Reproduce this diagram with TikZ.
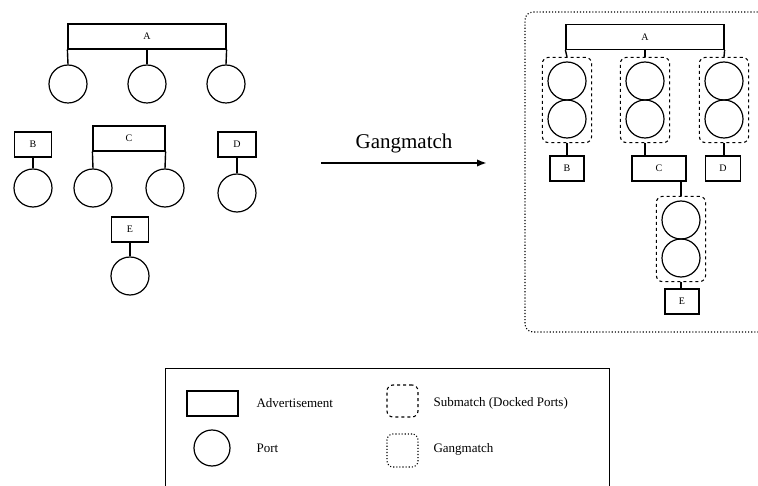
\documentclass[tikz,border=0pt]{standalone}
\usepackage{fontspec}
\setmainfont{Liberation Serif}
\usetikzlibrary{arrows.meta, positioning, fit}
\tikzset{
  adv/.style={draw, line width=1.2pt, inner sep=0pt, minimum height=25pt, font=\fontsize{10}{12}\selectfont},
  port/.style={draw, circle, line width=1.2pt, inner sep=0pt, minimum size=38pt},
  submatch/.style={draw, dashed, rounded corners=6pt, line width=1.1pt, inner xsep=5pt, inner ysep=4pt},
  gang/.style={draw, dotted, rounded corners=8pt, line width=1.1pt},
  leg/.style={line width=1.4pt},
  arrow/.style={-{Latex[length=3.5mm, width=2.6mm]}, line width=2pt},
  legtext/.style={anchor=west, font=\fontsize{13}{15}\selectfont},
}

\begin{document}
\begin{tikzpicture}[x=1pt, y=-1pt]
    \useasboundingbox (0,0) rectangle (758,486);
    \clip (0,0) rectangle (758,486);

    % before
    \node[adv, minimum width=158pt] (advA) at (147,36.5) {A};
    \node[port] (pA1) at (68,84) {};
    \node[port] (pA2) at (147,84) {};
    \node[port] (pA3) at (226,84) {};
    \draw[leg] (advA.south west) -- (pA1.north);
    \draw[leg] (advA.south) -- (pA2.north);
    \draw[leg] (advA.south east) -- (pA3.north);

    \node[adv, minimum width=37pt] (advB) at (33,144.5) {B};
    \node[port] (pB) at (33,188) {};
    \draw[leg] (advB.south) -- (pB.north);

    \node[adv, minimum width=72pt] (advC) at (129,138.5) {C};
    \node[port] (pC1) at (93,188) {};
    \node[port] (pC2) at (165,188) {};
    \draw[leg] (advC.south west) -- (pC1.north);
    \draw[leg] (advC.south east) -- (pC2.north);

    \node[adv, minimum width=38pt] (advD) at (237,144.5) {D};
    \node[port] (pD) at (237,193) {};
    \draw[leg] (advD.south) -- (pD.north);

    \node[adv, minimum width=37pt] (advE) at (130,229.5) {E};
    \node[port] (pE) at (130,276) {};
    \draw[leg] (advE.south) -- (pE.north);

    % gangmatch arrow
    \coordinate (arrS) at (321,163);
    \coordinate (arrE) at (487,163);
    \draw[arrow] (arrS) -- node[above=6pt, font=\fontsize{21}{24}\selectfont] {Gangmatch} (arrE);

    % after
    \node[gang, minimum width=250pt, minimum height=320pt] (gm) at (650,172) {};

    \node[adv, minimum width=158pt] (advA2) at (645,37) {A};
    \foreach \nm/\x in {B/567, C/645, D/724} {
      \node[port] (t\nm) at (\x,81) {};
      \node[port] (b\nm) at (\x,119) {};
      \node[submatch, fit=(t\nm)(b\nm)] (sm\nm) {};
    }
    \draw[leg] (advA2.south west) -- (smB.north);
    \draw[leg] (advA2.south) -- (smC.north);
    \draw[leg] (advA2.south east) -- (smD.north);

    \node[adv, minimum width=34pt] (advB2) at (567,168.5) {B};
    \node[adv, minimum width=54pt] (advC2) at (659,168.5) {C};
    \node[adv, minimum width=35pt] (advD2) at (723,168.5) {D};
    \draw[leg] (smB.south) -- (smB.south |- advB2.north);
    \draw[leg] (smC.south) -- (smC.south |- advC2.north);
    \draw[leg] (smD.south) -- (smD.south |- advD2.north);

    \node[port] (tE) at (681,220) {};
    \node[port] (bE) at (681,258) {};
    \node[submatch, fit=(tE)(bE)] (smE) {};
    \draw[leg] (smE.north |- advC2.south) -- (smE.north);
    \node[adv, minimum width=34pt] (advE2) at (682,301.5) {E};
    \draw[leg] (smE.south) -- (smE.south |- advE2.north);

    % legend
    \node[draw, line width=0.9pt, minimum width=444pt, minimum height=150pt, anchor=north west] (legend) at (165,368) {};
    \node[adv, minimum width=51pt] (legAdv) at (212.5,403.5) {};
    \node[legtext] (txtAdv) at (253,403) {Advertisement};
    \node[port, minimum size=36pt] (legPort) at (212,448) {};
    \node[legtext] (txtPort) at (253,448) {Port};
    \node[submatch, minimum width=31pt, minimum height=32pt] (legSub) at (402.5,401) {};
    \node[legtext] (txtSub) at (430,403) {Submatch (Docked Ports)};
    \node[gang, rounded corners=6pt, minimum width=31pt, minimum height=33pt] (legGang) at (402.5,450.5) {};
    \node[legtext] (txtGang) at (430,449) {Gangmatch};
\end{tikzpicture}
\end{document}
